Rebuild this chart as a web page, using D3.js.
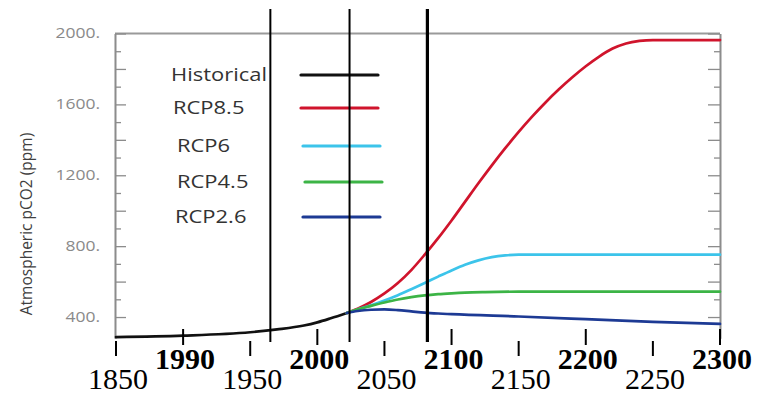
<!DOCTYPE html>
<html>
<head>
<meta charset="utf-8">
<script src="https://cdn.jsdelivr.net/npm/d3@7"></script>
<style>
  html, body { margin: 0; padding: 0; background: #fff; }
  svg { display: block; }
</style>
</head>
<body>
<svg id="chart" width="760" height="394"></svg>
<script>
// Atmospheric CO2 concentration: historical record and RCP pathways to 2300
const seriesNames = ["Historical", "RCP8.5", "RCP6", "RCP4.5", "RCP2.6"];
const seriesColors = ["#111111", "#d0142c", "#3cc4ea", "#3cb446", "#1d3a94"];

const historical = [
  [1850, 287], [1900, 295], [1950, 314], [1970, 330], [1990, 352],
  [2000, 370], [2010, 393], [2022, 423]
];
const rcp85 = [
  [2022, 423], [2030, 447], [2040, 485], [2050, 533], [2060, 592], [2070, 665],
  [2080, 752], [2090, 845], [2100, 945], [2110, 1050], [2120, 1155], [2130, 1256],
  [2140, 1353], [2150, 1445], [2160, 1531], [2170, 1611], [2180, 1685], [2190, 1753],
  [2200, 1815], [2210, 1870], [2220, 1915], [2230, 1944], [2240, 1958], [2250, 1963],
  [2275, 1963], [2300, 1963]
];
const rcp6 = [
  [2022, 423], [2030, 443], [2040, 466], [2050, 493], [2060, 523], [2070, 557],
  [2080, 592], [2090, 628], [2100, 663], [2110, 695], [2120, 720], [2130, 738],
  [2140, 748], [2150, 752], [2200, 752], [2250, 752], [2300, 752]
];
const rcp45 = [
  [2022, 423], [2030, 443], [2040, 463], [2050, 482], [2060, 499], [2070, 512],
  [2080, 522], [2090, 529], [2100, 534], [2110, 538], [2125, 541], [2150, 543],
  [2200, 543], [2250, 543], [2300, 543]
];
const rcp26 = [
  [2022, 423], [2030, 434], [2040, 441], [2050, 443], [2060, 439], [2070, 432],
  [2080, 425], [2090, 420], [2100, 416], [2150, 403], [2200, 388], [2250, 373],
  [2300, 361]
];
const seriesData = [historical, rcp85, rcp6, rcp45, rcp26];

// x-axis: ticks every 50 years, century labels raised in bold
const xTickYears = [1850, 1900, 1950, 2000, 2050, 2100, 2150, 2200, 2250, 2300];
const xTickLabels = ["1850", "1990", "1950", "2000", "2050", "2100", "2150", "2200", "2250", "2300"];
const yLabelTicks = [400, 800, 1200, 1600, 2000];
const markerYears = [1965, 2024, 2082];

const svg = d3.select("#chart");
const x = d3.scaleLinear().domain([1850, 2300]).range([116, 720]);
const y = d3.scaleLinear().domain([280, 2000]).range([338.3, 33.5]);

const axisColor = "#8c8c8c";
const sans = "'Open Sans', sans-serif";
const stretch = 1.22;

// top frame line
svg.append("line")
  .attr("x1", x(1850) - 1).attr("x2", x(2300))
  .attr("y1", y(2000)).attr("y2", y(2000))
  .attr("stroke", "#9a9a9a").attr("stroke-width", 2);

// left axis: short ticks at odd hundreds, long ticks every 200, labels every 400
const minorVals = d3.range(500, 2000, 200);
const majorVals = d3.range(400, 2001, 200);
function styleAxis(g) {
  g.selectAll("path.domain").attr("stroke", axisColor).attr("stroke-width", 1.6);
  g.selectAll(".tick line").attr("stroke", axisColor).attr("stroke-width", 1.3);
}
const left = svg.append("g").attr("transform", `translate(${x(1850) - 1},0)`);
left.append("g").call(d3.axisLeft(y).tickValues(minorVals).tickSize(-6).tickSizeOuter(0).tickFormat(""))
  .call(styleAxis);
left.append("g").call(d3.axisLeft(y).tickValues(majorVals).tickSize(-11).tickSizeOuter(0)
    .tickFormat(d => yLabelTicks.includes(d) ? d + "." : ""))
  .call(styleAxis)
  .call(g => g.selectAll(".tick text")
    .attr("fill", "#8a8a8a")
    .attr("font-family", sans)
    .attr("font-size", 14)
    .attr("x", -15 / 1.25)
    .attr("transform", "scale(1.25,1)"));

// right axis
const right = svg.append("g").attr("transform", `translate(${x(2300)},0)`);
right.append("g").call(d3.axisRight(y).tickValues(minorVals).tickSize(-6).tickSizeOuter(0).tickFormat(""))
  .call(styleAxis);
right.append("g").call(d3.axisRight(y).tickValues(majorVals).tickSize(-12).tickSizeOuter(0).tickFormat(""))
  .call(styleAxis);

// y-axis title
svg.append("text")
  .attr("transform", "translate(32,224) rotate(-90)")
  .attr("text-anchor", "middle")
  .attr("fill", "#3f3f3f")
  .attr("font-family", sans)
  .attr("font-size", 15.5)
  .text("Atmospheric pCO2 (ppm)");

// concentration curves
const line = d3.line().x(d => x(d[0])).y(d => y(d[1])).curve(d3.curveMonotoneX);
seriesData.forEach((data, i) => {
  svg.append("path")
    .datum(data)
    .attr("d", line)
    .attr("fill", "none")
    .attr("stroke", seriesColors[i])
    .attr("stroke-width", 2.7)
    .attr("stroke-linejoin", "round")
    .attr("stroke-linecap", "round");
});

// legend
const legendRows = [75, 108, 146, 182, 217];
const legendTextX = [171, 173, 177, 177, 175];
const legendLineX = [[301, 378], [301, 378], [303, 380], [305, 382], [303, 380]];
const legend = svg.append("g");
seriesNames.forEach((name, i) => {
  legend.append("text")
    .attr("transform", `translate(${legendTextX[i]},${legendRows[i] + 6}) scale(${stretch},1)`)
    .attr("fill", "#333")
    .attr("font-family", sans)
    .attr("font-size", 18)
    .text(name);
  legend.append("line")
    .attr("x1", legendLineX[i][0]).attr("x2", legendLineX[i][1])
    .attr("y1", legendRows[i]).attr("y2", legendRows[i])
    .attr("stroke", seriesColors[i]).attr("stroke-width", 3.2)
    .attr("stroke-linecap", "round");
});

// bottom tick marks and labels
xTickYears.forEach((yr, i) => {
  const century = yr % 100 === 0;
  svg.append("line")
    .attr("x1", x(yr)).attr("x2", x(yr))
    .attr("y1", century ? 329 : 341).attr("y2", century ? 345 : 356)
    .attr("stroke", "#000").attr("stroke-width", 2);
  svg.append("text")
    .attr("x", x(yr) + 2)
    .attr("y", century ? 369 : 389)
    .attr("text-anchor", "middle")
    .attr("font-family", "'Liberation Serif', 'Times New Roman', serif")
    .attr("font-weight", century ? "bold" : "normal")
    .attr("font-size", 30)
    .attr("fill", "#000")
    .text(xTickLabels[i]);
});

// vertical marker lines
const markerWidths = [2, 2, 3.2];
markerYears.forEach((yr, i) => {
  svg.append("line")
    .attr("x1", x(yr)).attr("x2", x(yr))
    .attr("y1", 9).attr("y2", 342)
    .attr("stroke", "#000").attr("stroke-width", markerWidths[i]);
});
</script>
</body>
</html>
